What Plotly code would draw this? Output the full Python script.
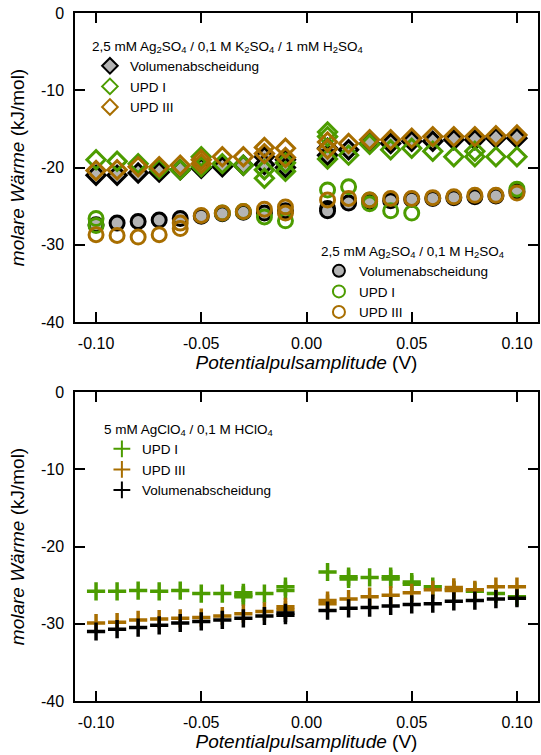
import plotly.graph_objects as go

# ---------------- data ----------------
# Top panel, diamonds: 2,5 mM Ag2SO4 / 0,1 M K2SO4 / 1 mM H2SO4
d_vol_x = [-0.10, -0.09, -0.08, -0.07, -0.06, -0.05, -0.04, -0.03, -0.02, -0.02, -0.01, -0.01,
           0.01, 0.01, 0.02, 0.03, 0.04, 0.05, 0.06, 0.07, 0.08, 0.09, 0.10]
d_vol_y = [-21.0, -21.0, -20.7, -20.6, -20.3, -20.1, -19.9, -19.7, -18.6, -19.6, -19.0, -20.0,
           -17.5, -18.4, -17.7, -16.9, -16.9, -16.6, -16.6, -16.4, -16.4, -16.2, -16.2]

d_upd1_x = [-0.10, -0.09, -0.08, -0.07, -0.06, -0.05, -0.05, -0.04, -0.03, -0.02, -0.02, -0.01, -0.01,
            0.01, 0.01, 0.01, 0.02, 0.03, 0.04, 0.05, 0.06, 0.07, 0.08, 0.08, 0.09, 0.10]
d_upd1_y = [-19.0, -19.2, -19.5, -20.2, -20.3, -18.6, -19.9, -19.5, -19.7, -21.4, -20.3, -20.5, -19.4,
            -15.4, -16.0, -18.9, -18.4, -17.0, -17.7, -17.5, -17.9, -18.6, -17.9, -18.6, -18.6, -18.6]

d_upd3_x = [-0.10, -0.09, -0.08, -0.07, -0.06, -0.05, -0.05, -0.04, -0.03, -0.02, -0.02, -0.01, -0.01,
            0.01, 0.01, 0.02, 0.03, 0.04, 0.05, 0.06, 0.07, 0.08, 0.09, 0.10]
d_upd3_y = [-20.4, -20.3, -19.9, -19.9, -19.7, -19.0, -19.5, -18.6, -18.6, -18.2, -17.4, -17.5, -18.7,
            -16.7, -17.6, -16.9, -16.4, -16.4, -16.2, -16.0, -16.0, -16.0, -15.9, -15.8]

# Top panel, circles: 2,5 mM Ag2SO4 / 0,1 M H2SO4
c_vol_x = [-0.10, -0.09, -0.08, -0.07, -0.06, -0.05, -0.04, -0.03, -0.02, -0.01,
           0.01, 0.01, 0.02, 0.03, 0.04, 0.05, 0.06, 0.07, 0.08, 0.09, 0.10]
c_vol_y = [-27.4, -27.2, -27.0, -26.8, -26.6, -26.3, -26.0, -25.8, -25.9, -25.6,
           -25.3, -25.6, -24.6, -24.4, -24.3, -24.1, -24.0, -23.9, -23.8, -23.7, -23.1]

c_upd1_x = [-0.10, -0.10, -0.04, -0.03, -0.02, -0.01,
            0.01, 0.02, 0.03, 0.03, 0.04, 0.05, 0.10]
c_upd1_y = [-26.6, -27.5, -25.9, -25.7, -26.4, -26.9,
            -22.9, -22.5, -24.2, -24.7, -25.6, -25.9, -22.8]

c_upd3_x = [-0.10, -0.09, -0.08, -0.07, -0.06, -0.06, -0.05, -0.04, -0.03, -0.02, -0.01, -0.01,
            0.01, 0.02, 0.03, 0.04, 0.05, 0.06, 0.07, 0.08, 0.09, 0.10]
c_upd3_y = [-28.7, -28.8, -29.0, -28.7, -27.2, -27.9, -26.2, -25.9, -25.7, -25.4, -25.1, -25.9,
            -24.2, -24.0, -24.2, -24.0, -24.0, -23.9, -23.8, -23.6, -23.6, -23.3]

# Bottom panel, crosses: 5 mM AgClO4 / 0,1 M HClO4
p_upd1_x = [-0.10, -0.09, -0.08, -0.07, -0.06, -0.05, -0.04, -0.03, -0.03, -0.03, -0.02, -0.01, -0.01,
            0.01, 0.02, 0.02, 0.03, 0.04, 0.04, 0.05, 0.05, 0.06, 0.07, 0.08, 0.09, 0.10]
p_upd1_y = [-25.8, -25.8, -25.7, -25.8, -25.7, -26.1, -26.1, -26.0, -26.3, -26.5, -26.1, -25.2, -25.7,
            -23.3, -23.9, -24.2, -24.0, -23.9, -24.2, -24.6, -24.9, -25.2, -25.6, -25.8, -26.1, -26.5]

p_upd3_x = [-0.10, -0.09, -0.08, -0.07, -0.06, -0.05, -0.04, -0.03, -0.02, -0.01, -0.01,
            0.01, 0.01, 0.02, 0.03, 0.04, 0.05, 0.06, 0.07, 0.07, 0.08, 0.09, 0.10]
p_upd3_y = [-29.9, -29.8, -29.5, -29.4, -29.3, -29.2, -29.0, -28.7, -28.4, -27.8, -28.2,
            -27.0, -27.4, -26.8, -26.5, -26.3, -26.0, -25.6, -25.3, -25.7, -25.6, -25.2, -25.2]

p_vol_x = [-0.10, -0.09, -0.08, -0.07, -0.06, -0.05, -0.04, -0.03, -0.02, -0.01, -0.01,
           0.01, 0.02, 0.03, 0.04, 0.05, 0.06, 0.07, 0.08, 0.09, 0.10]
p_vol_y = [-31.0, -30.7, -30.5, -30.2, -29.9, -29.7, -29.5, -29.3, -29.0, -28.9, -28.6,
           -28.3, -28.0, -27.9, -27.7, -27.5, -27.4, -27.1, -27.0, -26.8, -26.7]

x_tickvals = [-0.10, -0.05, 0.00, 0.05, 0.10]
x_ticktext = ["-0.10", "-0.05", "0.00", "0.05", "0.10"]
y_tickvals = [0, -10, -20, -30, -40]
y_ticktext = ["0", "-10", "-20", "-30", "-40"]

legend1_title = "2,5 mM Ag<sub>2</sub>SO<sub>4</sub> / 0,1 M K<sub>2</sub>SO<sub>4</sub> / 1 mM H<sub>2</sub>SO<sub>4</sub>"
legend2_title = "2,5 mM Ag<sub>2</sub>SO<sub>4</sub> / 0,1 M H<sub>2</sub>SO<sub>4</sub>"
legend3_title = "5 mM AgClO<sub>4</sub> / 0,1 M HClO<sub>4</sub>"

# ---------------- styles ----------------
GREEN = "#4c9c00"
BROWN = "#a86e00"
GRAY = "#b4b4b4"
FONT = "Liberation Sans, Arial, sans-serif"

fig = go.Figure()


def add(x, y, name, symbol, color, fill, size, lw, xa, ya, legend):
    if fill is None:
        marker = dict(symbol=symbol + "-open", color=color, size=size,
                      line=dict(width=lw, color=color))
    else:
        marker = dict(symbol=symbol, color=fill, size=size,
                      line=dict(width=lw, color=color))
    fig.add_trace(go.Scatter(x=x, y=y, mode="markers", name=name, marker=marker,
                             xaxis=xa, yaxis=ya, legend=legend, showlegend=True))


add(d_vol_x, d_vol_y, "Volumenabscheidung", "diamond", "black", GRAY, 14, 3, "x", "y", "legend")
add(d_upd1_x, d_upd1_y, "UPD I", "diamond", GREEN, None, 14, 3, "x", "y", "legend")
add(d_upd3_x, d_upd3_y, "UPD III", "diamond", BROWN, None, 14, 3, "x", "y", "legend")

add(c_vol_x, c_vol_y, "Volumenabscheidung", "circle", "black", GRAY, 14, 3, "x", "y", "legend2")
add(c_upd1_x, c_upd1_y, "UPD I", "circle", GREEN, None, 14, 3, "x", "y", "legend2")
add(c_upd3_x, c_upd3_y, "UPD III", "circle", BROWN, None, 14, 3, "x", "y", "legend2")

for x, y, name, col in [(p_upd1_x, p_upd1_y, "UPD I", GREEN),
                        (p_upd3_x, p_upd3_y, "UPD III", BROWN),
                        (p_vol_x, p_vol_y, "Volumenabscheidung", "black")]:
    fig.add_trace(go.Scatter(x=x, y=y, mode="markers", name=name,
                             marker=dict(symbol="cross-thin", size=13, color=col,
                                         line=dict(width=3.5, color=col)),
                             xaxis="x2", yaxis="y2", legend="legend3"))

# ---------------- layout ----------------
L, R, T, B = 75, 1, 13, 54
W, H = 541, 755
ph = H - T - B


def fy(py):
    return 1 - (py - T) / ph


def fx(px):
    return (px - L) / (W - L - R)


axis_common = dict(showline=True, linecolor="black", linewidth=1.5, mirror="ticks",
                   ticks="inside", ticklen=10, tickwidth=1.5, tickcolor="black",
                   showgrid=False, zeroline=False,
                   tickfont=dict(family=FONT, size=16, color="black"))

xtitle = dict(text="<i>Potentialpulsamplitude</i> (V)",
              font=dict(family=FONT, size=19, color="black"), standoff=5)
ytitle = dict(text="<i>molare Wärme</i> (kJ/mol)",
              font=dict(family=FONT, size=19, color="black"), standoff=11)

leg_font = dict(family=FONT, size=13.5)
leg_common = dict(xanchor="left", yanchor="top", bgcolor="rgba(0,0,0,0)",
                  itemsizing="constant", font=leg_font, traceorder="normal")

fig.update_layout(
    width=W, height=H,
    margin=dict(l=L, r=R, t=T, b=B),
    paper_bgcolor="white", plot_bgcolor="white",
    font=dict(family=FONT, color="black"),
    xaxis=dict(domain=[0, 1], anchor="y", range=[-0.11, 0.11],
               tickvals=x_tickvals, ticktext=x_ticktext, title=xtitle,
               ticklabelstandoff=6, **axis_common),
    yaxis=dict(domain=[fy(322), 1], anchor="x", range=[-40, 0],
               tickvals=y_tickvals, ticktext=y_ticktext, title=ytitle,
               ticklabelstandoff=6, **axis_common),
    xaxis2=dict(domain=[0, 1], anchor="y2", range=[-0.11, 0.11],
                tickvals=x_tickvals, ticktext=x_ticktext, title=xtitle,
                ticklabelstandoff=6, **axis_common),
    yaxis2=dict(domain=[0, fy(392)], anchor="x2", range=[-40, 0],
                tickvals=y_tickvals, ticktext=y_ticktext, title=ytitle,
                ticklabelstandoff=6, **axis_common),
    legend=dict(x=fx(90), y=fy(33), title=dict(text=legend1_title, font=leg_font),
                **leg_common),
    legend2=dict(x=fx(320), y=fy(238), title=dict(text=legend2_title, font=leg_font),
                 **leg_common),
    legend3=dict(x=fx(102), y=fy(416), title=dict(text=legend3_title, font=leg_font),
                 **leg_common),
)

fig.write_html("out.html")
